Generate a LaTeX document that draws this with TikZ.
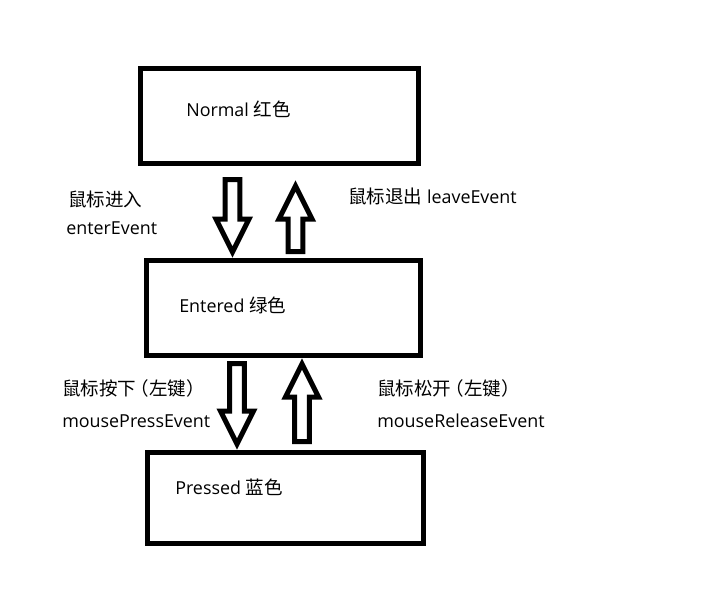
\documentclass[tikz,border=0pt]{standalone}
\usepackage{fontspec}
\setmainfont[Scale=0.965]{Open Sans}
\newfontfamily\cjk{Noto Sans CJK SC}
\usetikzlibrary{calc}
\tikzset{
  statebox/.style={draw,line width=3.75pt,inner sep=0pt},
  txt/.style={anchor=base west,inner sep=0pt,font=\fontsize{13.9}{16}\selectfont},
  blockarrow/.style={draw,line width=3.75pt}
}
% hollow arrow from tail #1 to tip #2
\newcommand{\hollowarrow}[2]{%
\draw[blockarrow] ($(#1)!5.6pt!90:(#2)$) -- ($(#2)!24.75pt!(#1)!5.6pt!90:(#2)$)
  -- ($(#2)!24.75pt!(#1)!12.4pt!90:(#2)$) -- (#2)
  -- ($(#2)!24.75pt!(#1)!12.4pt!-90:(#2)$) -- ($(#2)!24.75pt!(#1)!5.6pt!-90:(#2)$)
  -- ($(#1)!5.6pt!-90:(#2)$) -- cycle;}
\begin{document}
\begin{tikzpicture}[x=0.75pt,y=-0.75pt]
\useasboundingbox (0,0) rectangle (721,600);
% states
\node[statebox,minimum width=208.5pt,minimum height=71.25pt] (normal) at (279,115.5) {};
\node[statebox,minimum width=205.5pt,minimum height=71.25pt] (entered) at (283,307.5) {};
\node[statebox,minimum width=207pt,minimum height=68.25pt] (pressed) at (285,497.5) {};
\node[txt] (normaltxt) at (186,116) {Normal {\cjk 红色}};
\node[txt] (enteredtxt) at (179,312) {Entered {\cjk 绿色}};
\node[txt] (pressedtxt) at (175,494) {Pressed {\cjk 蓝色}};
% arrows
\coordinate (entertail) at (232.5,179.5);
\coordinate (entertip) at (232.5,252);
\coordinate (leavetail) at (295.5,251.5);
\coordinate (leavetip) at (295.5,186);
\coordinate (presstail) at (237,363.5);
\coordinate (presstip) at (237,444);
\coordinate (releasetail) at (302,441.5);
\coordinate (releasetip) at (302,364);
\hollowarrow{entertail}{entertip}
\hollowarrow{leavetail}{leavetip}
\hollowarrow{presstail}{presstip}
\hollowarrow{releasetail}{releasetip}
% labels
\node[txt] (enterA) at (68,206) {\cjk 鼠标进入};
\node[txt] (enterB) at (66,234) {enterEvent};
\node[txt] (leave) at (348,203) {{\cjk 鼠标退出} leaveEvent};
\node[txt] (pressA) at (62,395) {\cjk 鼠标按下\kern-0.3em（左键）};
\node[txt] (pressB) at (62,427) {mousePressEvent};
\node[txt] (releaseA) at (377,395) {\cjk 鼠标松开\kern-0.3em（左键）};
\node[txt] (releaseB) at (377,427) {mouseReleaseEvent};
\end{tikzpicture}
\end{document}
